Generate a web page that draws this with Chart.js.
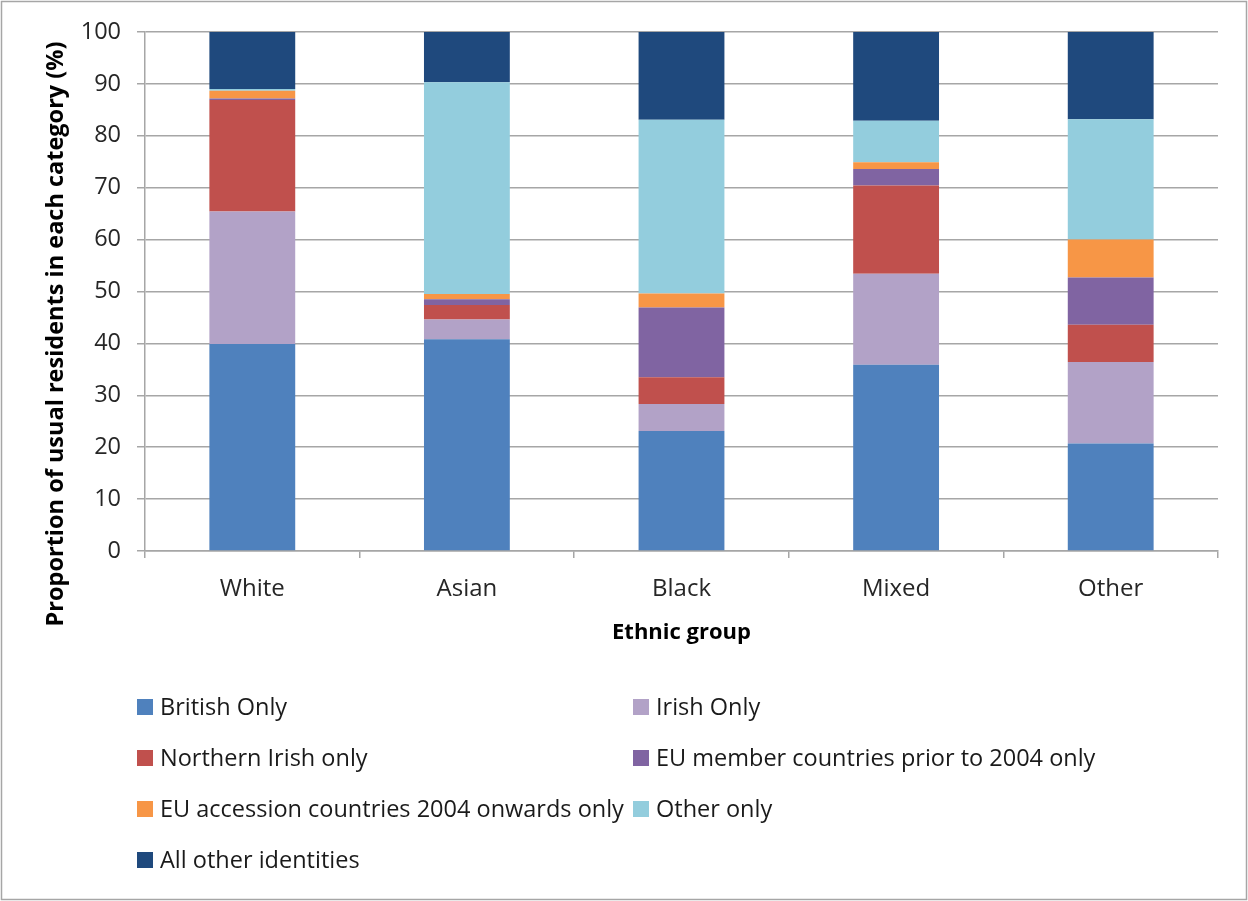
<!DOCTYPE html>
<html>
<head>
<meta charset="utf-8">
<script src="https://cdn.jsdelivr.net/npm/chart.js@4.4.1/dist/chart.umd.min.js"></script>
<style>
  html, body { margin: 0; padding: 0; background: #ffffff; }
  #wrap { width: 1248px; height: 901px; position: relative; }
  canvas { display: block; }
</style>
</head>
<body>
<div id="wrap"><canvas id="chart" width="1248" height="901"></canvas></div>
<script>
// Ethnic groups on the x axis
const groups = ['White', 'Asian', 'Black', 'Mixed', 'Other'];

// National identity shares (%) per ethnic group
const britishOnly      = [39.9, 40.8, 23.1, 35.9, 20.7];
const irishOnly        = [25.5,  3.8,  5.2, 17.5, 15.7];
const northernIrish    = [21.5,  2.8,  5.2, 17.0,  7.2];
const euPrior2004      = [ 0.3,  1.1, 13.4,  3.2,  9.1];
const euAccession2004  = [ 1.5,  1.0,  2.7,  1.3,  7.3];
const otherOnly        = [ 0.3, 40.8, 33.5,  8.0, 23.2];
const allOtherIdent    = [11.0,  9.7, 16.9, 17.1, 16.8];

// Series names (legend order)
const seriesNames = [
  'British Only',
  'Irish Only',
  'Northern Irish only',
  'EU member countries prior to 2004 only',
  'EU accession countries 2004 onwards only',
  'Other only',
  'All other identities'
];

// Y axis ticks
const yTicks = [0, 10, 20, 30, 40, 50, 60, 70, 80, 90, 100];

const yTitle = 'Proportion of usual residents in each category (%)';
const xTitle = 'Ethnic group';

const colours = ['#4F81BD', '#B2A2C7', '#C0504D', '#8064A2', '#F79646', '#93CDDD', '#1F497D'];
const seriesValues = [britishOnly, irishOnly, northernIrish, euPrior2004, euAccession2004, otherOnly, allOtherIdent];

const FONT = "'Open Sans', 'DejaVu Sans', sans-serif";
const GRID = '#a6a6a6';
const TEXT = '#262626';

const datasets = seriesNames.map((name, i) => ({
  label: name,
  data: seriesValues[i],
  backgroundColor: colours[i],
  borderWidth: 0,
  categoryPercentage: 1.0,
  barPercentage: 0.4
}));

// Frame, rotated y title and a two-column legend drawn on the canvas
const decorations = {
  id: 'decorations',
  afterDraw(chart) {
    const ctx = chart.ctx;
    ctx.save();

    // outer frame
    ctx.strokeStyle = '#a6a6a6';
    ctx.lineWidth = 1.5;
    ctx.strokeRect(1.5, 1.5, chart.width - 3, chart.height - 3);

    // y axis title
    ctx.fillStyle = '#000000';
    ctx.font = 'bold 23.5px ' + FONT;
    ctx.textAlign = 'center';
    ctx.textBaseline = 'middle';
    ctx.translate(56, 334);
    ctx.rotate(-Math.PI / 2);
    ctx.fillText(yTitle, 0, 0);
    ctx.setTransform(1, 0, 0, 1, 0, 0);

    // legend
    const cols = [137, 633];
    const rowY0 = 707, rowGap = 51, box = 16;
    ctx.font = '23.5px ' + FONT;
    ctx.textAlign = 'left';
    ctx.textBaseline = 'middle';
    chart.data.datasets.forEach((ds, i) => {
      const col = i % 2, row = Math.floor(i / 2);
      const x = cols[col], y = rowY0 + row * rowGap;
      ctx.fillStyle = ds.backgroundColor;
      ctx.fillRect(x, y - box / 2, box, box);
      ctx.fillStyle = '#1a1a1a';
      ctx.fillText(ds.label, x + 23, y + 1);
    });
    ctx.restore();
  }
};

new Chart(document.getElementById('chart'), {
  type: 'bar',
  data: { labels: groups, datasets },
  options: {
    responsive: false,
    animation: false,
    devicePixelRatio: 1,
    layout: { padding: { top: 32, right: 30, left: 0, bottom: 255 } },
    plugins: {
      legend: { display: false },
      tooltip: { enabled: false }
    },
    scales: {
      x: {
        stacked: true,
        grid: {
          display: true,
          offset: true,
          drawOnChartArea: false,
          drawTicks: true,
          tickLength: 7,
          color: GRID,
          lineWidth: 1.5
        },
        border: { display: true, color: GRID, width: 1.5 },
        ticks: { color: TEXT, font: { family: FONT, size: 24 }, padding: 17 },
        title: {
          display: true,
          text: xTitle,
          color: '#000000',
          font: { family: FONT, size: 22, weight: 'bold' },
          padding: { top: 0, bottom: 0 }
        },
        afterFit(scale) { scale.height = 95; }
      },
      y: {
        stacked: true,
        min: 0,
        max: 100,
        afterBuildTicks(scale) { scale.ticks = yTicks.map(v => ({ value: v })); },
        grid: {
          color: GRID,
          lineWidth: 1.5,
          drawTicks: true,
          tickLength: 8
        },
        border: { display: true, color: GRID, width: 1.5 },
        ticks: { color: TEXT, font: { family: FONT, size: 23.5 }, padding: 16 },
        afterFit(scale) { scale.width = 145; }
      }
    }
  },
  plugins: [decorations]
});
</script>
</body>
</html>
